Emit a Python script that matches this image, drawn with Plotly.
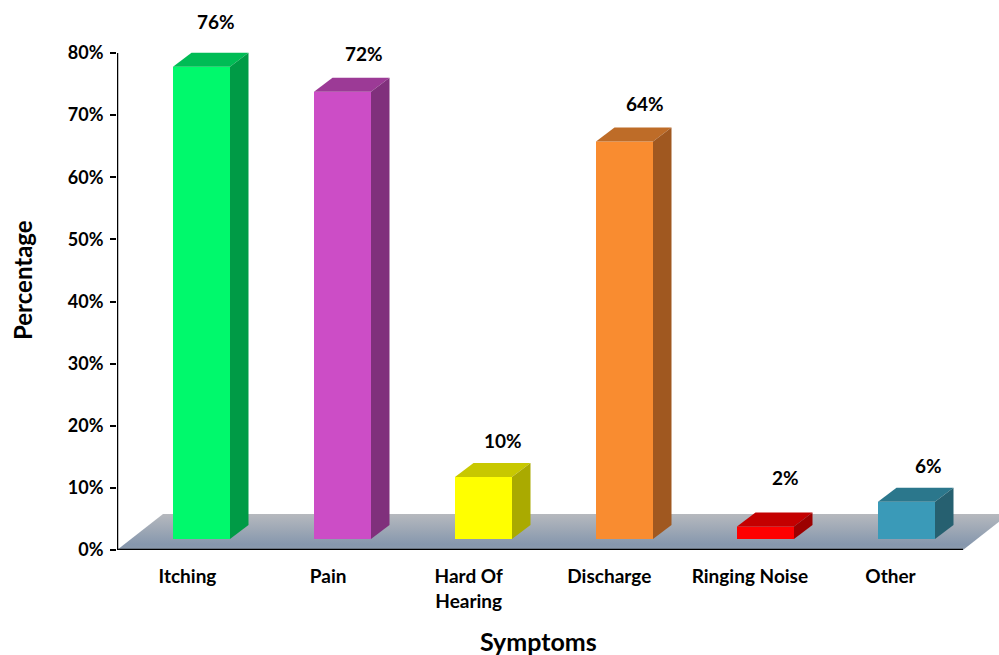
import plotly.graph_objects as go

categories = ["Itching", "Pain", "Hard Of<br>Hearing", "Discharge", "Ringing Noise", "Other"]
values = [76, 72, 10, 64, 2, 6]
value_labels = ["76%", "72%", "10%", "64%", "2%", "6%"]
y_ticks = [0, 10, 20, 30, 40, 50, 60, 70, 80]
y_tick_labels = ["0%", "10%", "20%", "30%", "40%", "50%", "60%", "70%", "80%"]

front_colors = ["#00F96C", "#CC4DC6", "#FFFF00", "#F98C30", "#FF0000", "#3A9AB8"]
top_colors = ["#00BC55", "#9C3A96", "#C8C800", "#BE6C28", "#C40000", "#2B778C"]
side_colors = ["#009B46", "#80307C", "#AAAA00", "#A05820", "#9C0000", "#266070"]

# Style constants (pixel geometry converted to axis units)
W, H = 999, 655
L, B = 117, 105
PX_X = 141.0            # pixels per category
PX_Y = 6.2125           # pixels per percentage point
X_MAX = (W - L) / PX_X
Y_MAX = (H - B) / PX_Y
BAR_W = 57 / PX_X
BAR_SHIFT = 14 / PX_X
BASE = 11 / PX_Y
DX = 18.5 / PX_X
DY = 14 / PX_Y
FLOOR_DX = 46 / PX_X
FLOOR_DY = 36 / PX_Y
LABEL_DX = [28.5, 35.5, 33.5, 34.5, 33.5, 35.5]
LABEL_LIFT = [31, 24, 22, 24, 35, 22]
TICK_STEP = 140.6 / PX_X
FONT = "Lato, Carlito, Arial, sans-serif"

fig = go.Figure()

# Floor on the base axes, so that everything else sits above it
n = len(categories)
fig.add_trace(go.Scatter(
    x=[0, n, n + FLOOR_DX, FLOOR_DX, 0],
    y=[0, 0, FLOOR_DY, FLOOR_DY, 0],
    mode="lines", line=dict(width=0), fill="toself",
    fillgradient=dict(type="vertical",
                      colorscale=[[0, "#8C9AAC"], [0.15, "#8697AD"], [1, "#B6B9BE"]]),
    hoverinfo="skip", showlegend=False,
))

centers = [i + 0.5 + BAR_SHIFT for i in range(n)]

fig.add_trace(go.Bar(
    x=centers, y=values, base=BASE, width=BAR_W,
    marker=dict(color=front_colors, line=dict(width=0)),
    xaxis="x2", yaxis="y2", showlegend=False, hoverinfo="skip",
))

for c, v, tc, sc in zip(centers, values, top_colors, side_colors):
    x0, x1 = c - BAR_W / 2, c + BAR_W / 2
    top_y = v + BASE
    fig.add_trace(go.Scatter(
        x=[x0, x1, x1 + DX, x0 + DX, x0],
        y=[top_y, top_y, top_y + DY, top_y + DY, top_y],
        mode="lines", line=dict(width=0), fill="toself", fillcolor=tc,
        xaxis="x2", yaxis="y2", showlegend=False, hoverinfo="skip",
    ))
    fig.add_trace(go.Scatter(
        x=[x1, x1 + DX, x1 + DX, x1, x1],
        y=[BASE, BASE + DY, top_y + DY, top_y, BASE],
        mode="lines", line=dict(width=0), fill="toself", fillcolor=sc,
        xaxis="x2", yaxis="y2", showlegend=False, hoverinfo="skip",
    ))

# Axis lines
fig.add_trace(go.Scatter(x=[0, n], y=[0, 0], mode="lines",
                         line=dict(color="black", width=2.5), cliponaxis=False,
                         xaxis="x2", yaxis="y2", showlegend=False, hoverinfo="skip"))
fig.add_trace(go.Scatter(x=[0, 0], y=[0, y_ticks[-1]], mode="lines",
                         line=dict(color="black", width=2.5), cliponaxis=False,
                         xaxis="x2", yaxis="y2", showlegend=False, hoverinfo="skip"))

annotations = []
for i, (v, t) in enumerate(zip(values, value_labels)):
    annotations.append(dict(
        x=i + 0.5 + LABEL_DX[i] / PX_X, y=v + BASE + DY, xref="x2", yref="y2",
        text=f"<b>{t}</b>", showarrow=False, yanchor="middle", xanchor="center",
        yshift=LABEL_LIFT[i], font=dict(family=FONT, size=19, color="black"),
    ))
annotations.append(dict(
    x=(23 - L) / (W - L), y=1 - 280 / (H - B), xref="paper", yref="paper",
    yanchor="middle", xanchor="center",
    text="<b>Percentage</b>", textangle=-90, showarrow=False,
    font=dict(family=FONT, size=24, color="black"),
))
annotations.append(dict(
    x=(538 - L) / (W - L), y=-(641 - (H - B)) / (H - B), xref="paper", yref="paper",
    yanchor="middle", xanchor="center", text="<b>Symptoms</b>", showarrow=False,
    font=dict(family=FONT, size=25, color="black"),
))

tick_font = dict(family=FONT, size=19, color="black")
fig.update_layout(
    width=W, height=H,
    margin=dict(l=L, r=0, t=0, b=B, pad=0),
    paper_bgcolor="white", plot_bgcolor="white",
    barmode="overlay",
    showlegend=False,
    annotations=annotations,
    xaxis=dict(range=[0, X_MAX], tickvals=[0.5 + i * TICK_STEP for i in range(n)],
               ticktext=[f"<b>{c.replace('<br>', '</b><br><b>')}</b>" for c in categories],
               tickfont=tick_font, ticks="", showgrid=False, zeroline=False, showline=False,
               ticklabelstandoff=13),
    yaxis=dict(range=[0, Y_MAX], tickvals=y_ticks,
               ticktext=[f"<b>{t}</b>" for t in y_tick_labels],
               tickfont=dict(family=FONT, size=18, color="black"),
               ticks="outside", ticklen=6, tickwidth=2, tickcolor="black",
               ticklabelstandoff=3, showgrid=False, zeroline=False, showline=False),
    xaxis2=dict(range=[0, X_MAX], overlaying="x", visible=False),
    yaxis2=dict(range=[0, Y_MAX], overlaying="y", visible=False),
)

fig.write_html("out.html", post_script="document.body.style.margin='0';",
               config={"displayModeBar": False})
